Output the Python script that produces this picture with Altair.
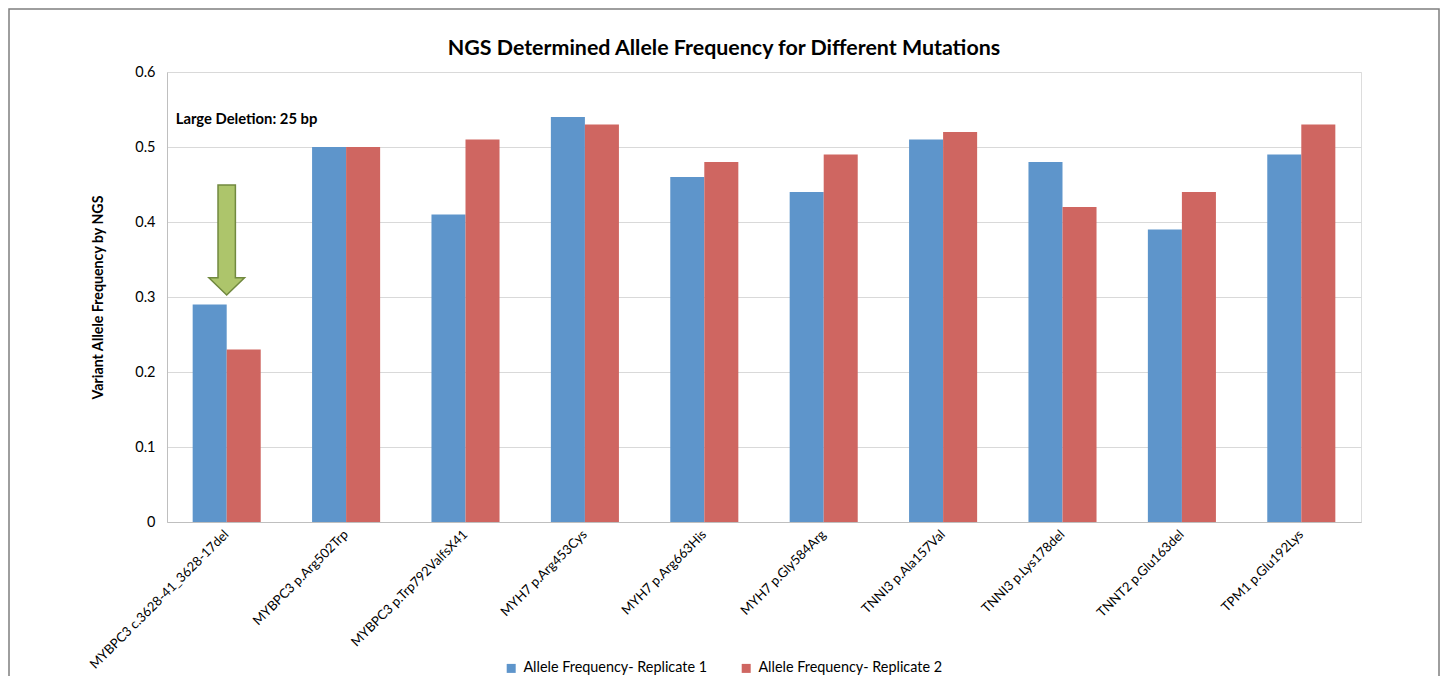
import altair as alt
import pandas as pd

categories = [
    "MYBPC3 c.3628-41_3628-17del",
    "MYBPC3 p.Arg502Trp",
    "MYBPC3 p.Trp792ValfsX41",
    "MYH7 p.Arg453Cys",
    "MYH7 p.Arg663His",
    "MYH7 p.Gly584Arg",
    "TNNI3 p.Ala157Val",
    "TNNI3 p.Lys178del",
    "TNNT2 p.Glu163del",
    "TPM1 p.Glu192Lys",
]
series_names = ["Allele Frequency- Replicate 1", "Allele Frequency- Replicate 2"]
replicate1 = [0.29, 0.50, 0.41, 0.54, 0.46, 0.44, 0.51, 0.48, 0.39, 0.49]
replicate2 = [0.23, 0.50, 0.51, 0.53, 0.48, 0.49, 0.52, 0.42, 0.44, 0.53]
y_ticks = [0, 0.1, 0.2, 0.3, 0.4, 0.5, 0.6]

annotation_text = "Large Deletion: 25 bp"
annotation_value = 0.536
arrow_value = 0.376

FONT = "Lato"
BLUE = "#5E95CB"
RED = "#CF6661"

rows = []
for c, a, b in zip(categories, replicate1, replicate2):
    rows.append({"category": c, "series": series_names[0], "value": a})
    rows.append({"category": c, "series": series_names[1], "value": b})
df = pd.DataFrame(rows)

xscale = alt.Scale(domain=categories, paddingInner=0.43, paddingOuter=0.215)
yscale = alt.Scale(domain=[0, 0.6], nice=False)

bars = alt.Chart(df).mark_bar().encode(
    x=alt.X("category:N", scale=xscale, title=None,
            axis=alt.Axis(labelAngle=-45, labelAlign="right", labelBaseline="middle",
                          labelFontSize=13.1, labelFont=FONT,
                          labelColor="#000000", ticks=False, domainColor="#BFBFBF",
                          labelPadding=10, labelLimit=400, grid=False)),
    y=alt.Y("value:Q", scale=yscale, title="Variant Allele Frequency by NGS",
            axis=alt.Axis(values=y_ticks,
                          labelExpr="datum.value == 0 ? '0' : format(datum.value, '.1f')",
                          labelFontSize=14.5, labelFont=FONT, labelColor="#000000",
                          ticks=False, labelPadding=12, domainColor="#BFBFBF",
                          gridColor="#D9D9D9", titleFont=FONT, titleFontSize=14.2,
                          titleFontWeight="bold", titleColor="#000000",
                          titlePadding=29)),
    xOffset=alt.XOffset("series:N", sort=series_names),
    color=alt.Color("series:N",
                    scale=alt.Scale(domain=series_names, range=[BLUE, RED]),
                    legend=alt.Legend(orient="none", legendX=337, legendY=589,
                                      direction="horizontal", title=None,
                                      symbolType="square", symbolSize=81,
                                      symbolStrokeWidth=0, labelFontSize=14.4,
                                      labelFont=FONT, labelColor="#000000",
                                      columnPadding=31, labelOffset=5,
                                      labelLimit=400)),
)

ann_df = pd.DataFrame({"category": [categories[0]], "value": [annotation_value],
                       "label": [annotation_text]})
annotation = alt.Chart(ann_df).mark_text(
    align="left", baseline="middle", dx=-51, font=FONT, fontSize=14.8,
    fontWeight="bold", color="#000000"
).encode(
    x=alt.X("category:N", scale=xscale),
    y=alt.Y("value:Q", scale=yscale),
    text="label:N",
)

arrow_path = ("M -0.158 -1 L 0.158 -1 L 0.158 0.685 L 0.324 0.685 L 0 1 "
              "L -0.324 0.685 L -0.158 0.685 Z")
arrow_df = pd.DataFrame({"category": [categories[0]], "value": [arrow_value]})
arrow = alt.Chart(arrow_df).mark_point(
    shape=arrow_path, size=12100, filled=True, fill="#ADC56B",
    stroke="#71893F", strokeWidth=1.5, opacity=1, fillOpacity=1,
    dx=-1
).encode(
    x=alt.X("category:N", scale=xscale),
    y=alt.Y("value:Q", scale=yscale),
)

frame_df = pd.DataFrame({"k": [0]})
frame = alt.Chart(frame_df).mark_rect(
    fill=None, stroke="#7F7F7F", strokeWidth=1.5
).encode(
    x=alt.value(-158), x2=alt.value(1272), y=alt.value(-63), y2=alt.value(700)
)

chart = alt.layer(frame, bars, arrow, annotation).properties(
    width=1194, height=450,
    title=alt.Title("NGS Determined Allele Frequency for Different Mutations",
                    font=FONT, fontSize=21.4, fontWeight="bold", color="#000000",
                    anchor="middle", dx=-40, offset=-51),
    autosize=alt.AutoSizeParams(type="none"),
    padding={"left": 159, "top": 64, "right": 79, "bottom": 154},
).configure_view(stroke=None).configure(background="white")

chart.save("out.html", embed_options={"renderer": "svg", "actions": False})
